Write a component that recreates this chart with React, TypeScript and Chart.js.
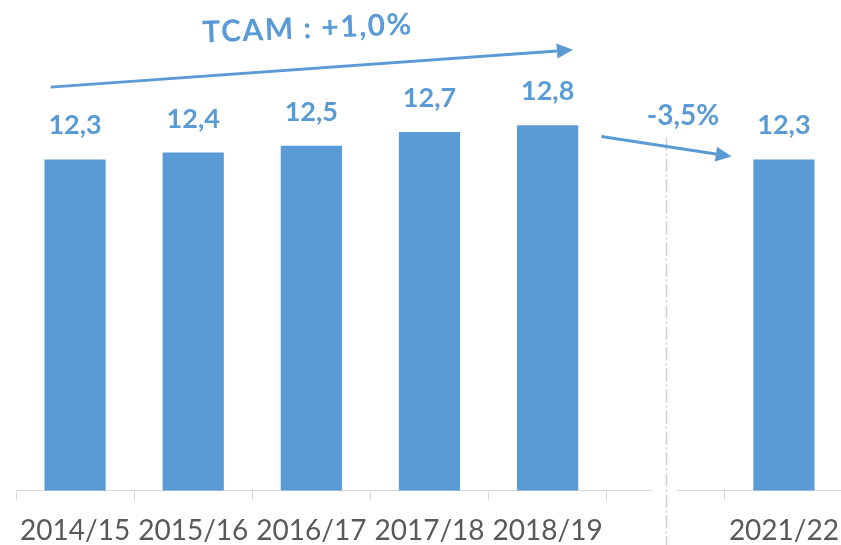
import React, { useEffect, useRef } from "react";
import { Chart, registerables } from "chart.js";

Chart.register(...registerables);

const categories: string[] = ["2014/15", "2015/16", "2016/17", "2017/18", "2018/19", "", "2021/22"];
const values: (number | null)[] = [12.3, 12.4, 12.5, 12.7, 12.8, null, 12.3];
const valueLabels: string[] = ["12,3", "12,4", "12,5", "12,7", "12,8", "", "12,3"];
const trendLabel = "TCAM : +1,0%";
const dropLabel = "-3,5%";
const breakIndex = 5;

const BLUE = "#5B9BD5";
const GRID = "#d9d9d9";
const FONT = "Lato, 'Open Sans', sans-serif";

// annotation anchors in (category index, value) space
const trendArrow = { from: [-0.206, 13.355], to: [4.214, 13.9] };
const trendText = { at: [1.967, 14.227], angle: -2.3 };
const dropArrow = { from: [4.455, 12.635], to: [5.558, 12.343] };
const dropText = { at: [5.121, 12.944] };

function drawArrow(ctx: CanvasRenderingContext2D, x1: number, y1: number, x2: number, y2: number) {
  const ang = Math.atan2(y2 - y1, x2 - x1);
  const headLen = 16;
  const headHalf = 7.5;
  const bx = x2 - headLen * Math.cos(ang);
  const by = y2 - headLen * Math.sin(ang);
  ctx.strokeStyle = BLUE;
  ctx.fillStyle = BLUE;
  ctx.lineWidth = 3;
  ctx.beginPath();
  ctx.moveTo(x1, y1);
  ctx.lineTo(bx, by);
  ctx.stroke();
  ctx.beginPath();
  ctx.moveTo(x2, y2);
  ctx.lineTo(bx + headHalf * Math.sin(ang), by - headHalf * Math.cos(ang));
  ctx.lineTo(bx - headHalf * Math.sin(ang), by + headHalf * Math.cos(ang));
  ctx.closePath();
  ctx.fill();
}

const annotPlugin = {
  id: "annot",
  afterDraw(chart: any) {
    const ctx: CanvasRenderingContext2D = chart.ctx;
    const xs = chart.scales.x;
    const ys = chart.scales.y;
    const P = (p: number[]) => [xs.getPixelForValue(p[0]), ys.getPixelForValue(p[1])];
    ctx.save();

    // break in the x axis
    const cx = xs.getPixelForValue(breakIndex);
    const bottom = chart.chartArea.bottom;
    ctx.fillStyle = "#ffffff";
    ctx.fillRect(cx - 14, bottom - 3, 25, 6);

    // dash-dot separator
    ctx.strokeStyle = "#d0d0d0";
    ctx.lineWidth = 1.5;
    ctx.setLineDash([13, 3, 2, 3]);
    ctx.beginPath();
    ctx.moveTo(Math.round(cx) + 0.5, ys.getPixelForValue(12.62));
    ctx.lineTo(Math.round(cx) + 0.5, chart.height);
    ctx.stroke();
    ctx.setLineDash([]);

    // value labels
    const meta = chart.getDatasetMeta(0);
    ctx.fillStyle = BLUE;
    ctx.font = `bold 27px ${FONT}`;
    ctx.textAlign = "center";
    ctx.textBaseline = "alphabetic";
    meta.data.forEach((bar: any, i: number) => {
      if (values[i] == null) return;
      ctx.fillText(valueLabels[i], bar.x, bar.y - 25);
    });

    // arrows
    const a1 = P(trendArrow.from), a2 = P(trendArrow.to);
    drawArrow(ctx, a1[0], a1[1], a2[0], a2[1]);
    const b1 = P(dropArrow.from), b2 = P(dropArrow.to);
    drawArrow(ctx, b1[0], b1[1], b2[0], b2[1]);

    // annotation texts
    ctx.fillStyle = BLUE;
    const t = P(trendText.at);
    ctx.save();
    ctx.translate(t[0], t[1]);
    ctx.rotate((trendText.angle * Math.PI) / 180);
    ctx.font = `bold 30px ${FONT}`;
    (ctx as any).letterSpacing = "1.5px";
    ctx.fillText(trendLabel, 0, 11);
    ctx.restore();

    const d = P(dropText.at);
    ctx.font = `bold 28px ${FONT}`;
    ctx.fillText(dropLabel, d[0] + 3, d[1] + 10);

    ctx.restore();
  },
};

export default function App() {
  const ref = useRef<HTMLCanvasElement>(null);
  useEffect(() => {
    if (!ref.current) return;
    const chart = new Chart(ref.current, {
      type: "bar",
      data: {
        labels: categories,
        datasets: [
          {
            data: values,
            backgroundColor: BLUE,
            borderWidth: 0,
            categoryPercentage: 1,
            barPercentage: 0.518,
          },
        ],
      },
      options: {
        animation: false,
        responsive: false,
        devicePixelRatio: 1,
        layout: { padding: { left: 16, right: 0, top: 10, bottom: 0 } },
        plugins: { legend: { display: false }, tooltip: { enabled: false } },
        scales: {
          x: {
            offset: true,
            grid: {
              offset: true,
              drawOnChartArea: false,
              drawTicks: true,
              tickLength: 10,
              color: GRID,
              lineWidth: 1,
            },
            border: { display: true, color: GRID, width: 1 },
            ticks: {
              color: "#595959",
              font: { family: FONT, size: 28, lineHeight: 2.193 },
              padding: 0,
              maxRotation: 0,
              autoSkip: false,
            },
          },
          y: { display: false, min: 7.47, max: 14.48 },
        },
      },
      plugins: [annotPlugin],
    });
    return () => chart.destroy();
  }, []);
  return (
    <div style={{ position: "fixed", left: 0, top: 0, width: 841, height: 545, overflow: "hidden", background: "#fff" }}>
      <canvas ref={ref} width={843} height={562} style={{ display: "block" }} />
    </div>
  );
}
